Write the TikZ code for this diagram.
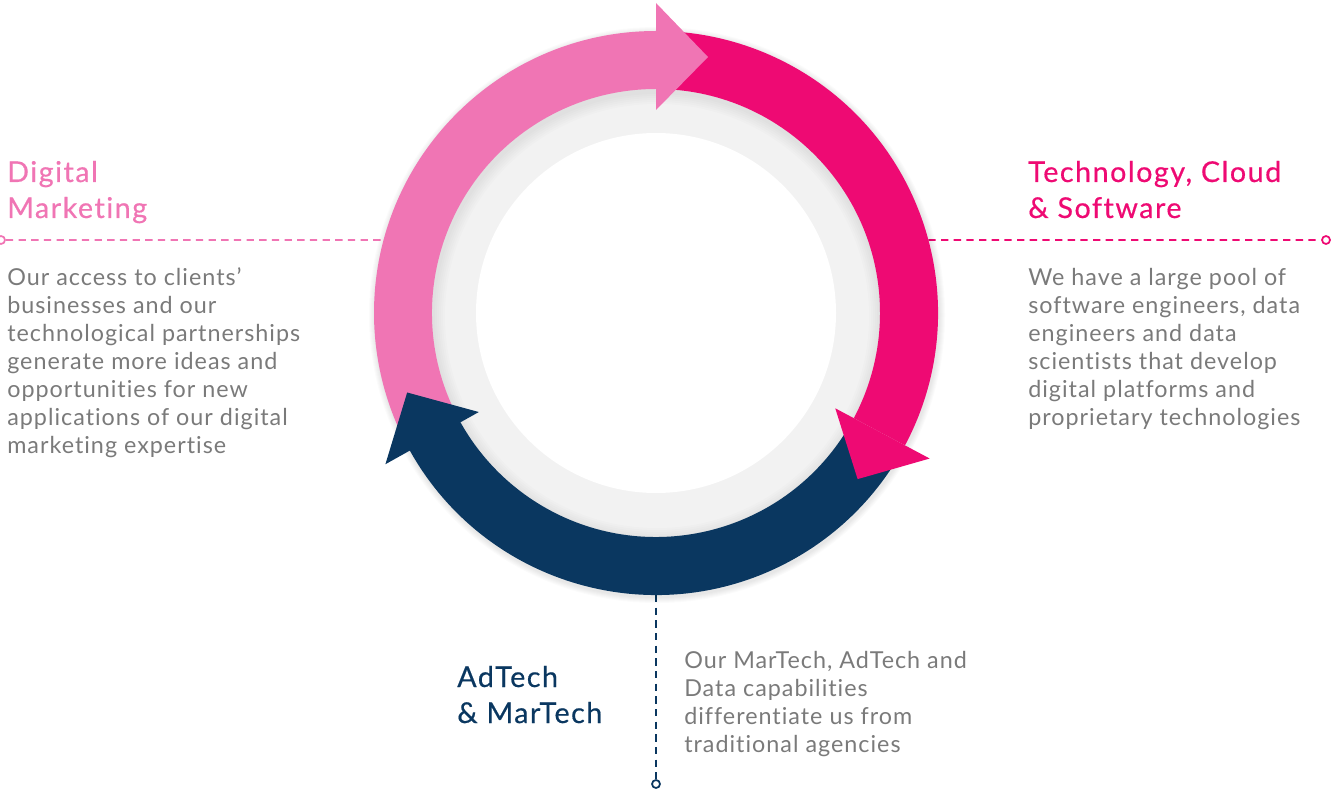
\documentclass[tikz,border=0pt]{standalone}
\usepackage{fontspec}
\setmainfont{Lato}
\newfontfamily\headfont[LetterSpace=5.3, FakeBold=0.5, Ligatures=NoCommon]{Lato}
\newfontfamily\bodyfont[LetterSpace=4.3, Ligatures=NoCommon]{Lato}
\definecolor{dmpink}{RGB}{240,117,180}
\definecolor{techpink}{RGB}{238,10,115}
\definecolor{adnavy}{RGB}{10,55,96}
\definecolor{ringgray}{RGB}{242,242,242}
\definecolor{bodygray}{RGB}{122,122,122}

\begin{document}
\begin{tikzpicture}[x=0.75pt, y=0.75pt,
    heading/.style={anchor=base west, inner sep=0pt, align=left,
        font=\headfont\fontsize{21.5}{27}\selectfont},
    bodytext/.style={anchor=base west, inner sep=0pt, align=left, text=bodygray,
        font=\bodyfont\fontsize{17.5}{21}\selectfont},
    leader/.style={dash pattern=on 5.5pt off 4pt, line width=1.4pt},
    endpoint/.style={circle, draw, fill=white, line width=1.3pt, inner sep=0pt, minimum size=6pt}]

    \useasboundingbox (0,0) rectangle (1333,790);

    % Ring radii (outer band, inner band, white disc)
    \def\ro{282}
    \def\ri{224}
    \def\rw{180}
    \coordinate (hub) at (656,477);

    % --- 1. Leader lines (under the ring) ---
    \node[endpoint, draw=dmpink] (dmend) at (1,550) {};
    \node[endpoint, draw=techpink] (techend) at (1326,550) {};
    \node[endpoint, draw=adnavy] (adend) at (656,6) {};
    \path (hub) ++(165:\ro) coordinate (dmring);
    \path (hub) ++(15:\ro) coordinate (techring);
    \path (hub) ++(-90:\ro) coordinate (adring);

    \draw[leader, dmpink] (dmend) -- (dmring);
    \draw[leader, techpink] (techring) -- (techend);
    \draw[leader, adnavy] (adring) -- (adend);

    \begin{scope}[shift={(hub)}]
        % --- 2. Soft shadow and grey disc ---
        \foreach \s in {1,...,6}
            \fill[black, opacity=0.016] (1,-2) circle (\ro+\s);
        \fill[ringgray] (0,0) circle (\ri);
        \foreach \s in {2,4,...,12}
            \fill[black, opacity=0.012, even odd rule] (0,0) circle (\ri) (1,-3) circle (\ri-\s);
        \fill[white] (0,0) circle (\rw);

        % --- 3. Coloured bands ---
        \foreach \col/\from/\to in {dmpink/90/206, techpink/-28/90, adnavy/-151/-33}
            \fill[\col] (\from:\ro) arc[start angle=\from, end angle=\to, radius=\ro]
                -- (\to:\ri) arc[start angle=\to, end angle=\from, radius=\ri] -- cycle;

        % --- 4. Arrowheads (one shape, turned round the hub) ---
        \foreach \col/\rot in {dmpink/0, techpink/-118, adnavy/119.2}
            \fill[\col, rotate=\rot] (90:203) -- (90:310) -- (52,256) -- cycle;
    \end{scope}

    % --- 5. Labels (anchored at the baseline of their last line) ---
    \node[heading, text=dmpink] (dmtitle) at (7,572) {Digital\\Marketing};
    \node[bodytext] (dmtext) at (7,337) {Our access to clients’\\businesses and our\\technological partnerships\\generate more ideas and\\opportunities for new\\applications of our digital\\marketing expertise};

    \node[heading, text=techpink] (techtitle) at (1028,572) {Technology, Cloud\\\& Software};
    \node[bodytext] (techtext) at (1028,365) {We have a large pool of\\software engineers, data\\engineers and data\\scientists that develop\\digital platforms and\\proprietary technologies};

    \node[heading, text=adnavy] (adtitle) at (457,67) {AdTech\\\& MarTech};
    \node[bodytext] (adtext) at (684,38) {Our MarTech, AdTech and\\Data capabilities\\differentiate us from\\traditional agencies};

\end{tikzpicture}
\end{document}
